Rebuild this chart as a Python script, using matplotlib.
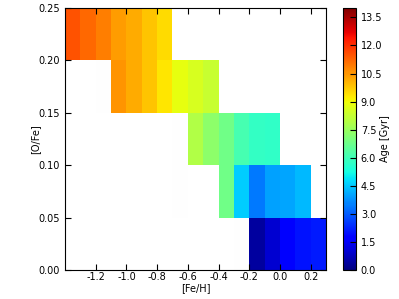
import numpy as np
import matplotlib
matplotlib.use("Agg")
import matplotlib.pyplot as plt

# grid edges
feh_edges = np.arange(-1.4, 0.31, 0.1)
ofe_edges = np.arange(0.0, 0.251, 0.05)

# ages per row (bottom to top), with the first [Fe/H] bin index of each row
row_start = [12, 10, 8, 3, 0]
row_ages = [
    [0.4, 1.0, 1.6, 2.0, 2.1],
    [6.8, 4.55, 3.4, 3.95, 4.0, 4.27],
    [7.9, 7.3, 6.8, 6.1, 5.75, 5.7],
    [10.5, 10.2, 9.8, 9.3, 8.85, 8.55, 8.3],
    [11.5, 11.2, 10.85, 10.4, 10.2, 9.8, 9.5],
]

# barely visible grey cells (row, first bin, values)
faint_start = [10, 6, 3, 0]
faint_rows = [0, 1, 2, 3]
faint_vals = [
    [0.006, 0.01],
    [0.006, 0.01],
    [0.006, 0.006, 0.006, 0.006, 0.008, 0.013],
    [0.003, 0.005, 0.01],
]

cbar_ticks = np.arange(0, 13.6, 1.5)

ages = np.full((len(ofe_edges) - 1, len(feh_edges) - 1), np.nan)
for r, (s, vals) in enumerate(zip(row_start, row_ages)):
    ages[r, s:s + len(vals)] = vals

faint = np.full(ages.shape, np.nan)
for r, s, vals in zip(faint_rows, faint_start, faint_vals):
    faint[r, s:s + len(vals)] = vals

plt.rcParams['font.size'] = 7
fig = plt.figure(figsize=(3.99, 2.99), dpi=100)
ax = fig.add_axes([65 / 399, 29 / 299, 261 / 399, 262 / 299])
cax = fig.add_axes([343 / 399, 29 / 299, 13 / 399, 262 / 299])

ax.pcolormesh(feh_edges, ofe_edges, np.ma.masked_invalid(faint),
              cmap='Greys', vmin=0, vmax=1)
mesh = ax.pcolormesh(feh_edges, ofe_edges, np.ma.masked_invalid(ages),
                     cmap='jet', vmin=0, vmax=14)

ax.set_xlim(-1.4, 0.3)
ax.set_ylim(0, 0.25)
xt = np.arange(-1.2, 0.21, 0.2)
yt = np.arange(0, 0.251, 0.05)
ax.set_xticks(xt)
ax.set_yticks(yt)
ax.set_xticklabels(['%.1f' % t if abs(t) > 1e-9 else '0.0' for t in xt])
ax.set_yticklabels(['%.2f' % t for t in yt])
ax.tick_params(direction='in', top=True, right=True, length=4, labelsize=7)
ax.tick_params(axis='x', pad=1.5)
ax.set_xlabel('[Fe/H]', fontsize=7, labelpad=1)
ax.set_ylabel('[O/Fe]', fontsize=7, labelpad=-1)

cb = fig.colorbar(mesh, cax=cax, ticks=cbar_ticks)
cb.ax.set_yticklabels(['%.1f' % t for t in cbar_ticks])
cb.ax.tick_params(direction='in', length=4, labelsize=7)
cb.set_label('Age [Gyr]', fontsize=7, labelpad=-2)

fig.savefig('out.png', dpi=100)
